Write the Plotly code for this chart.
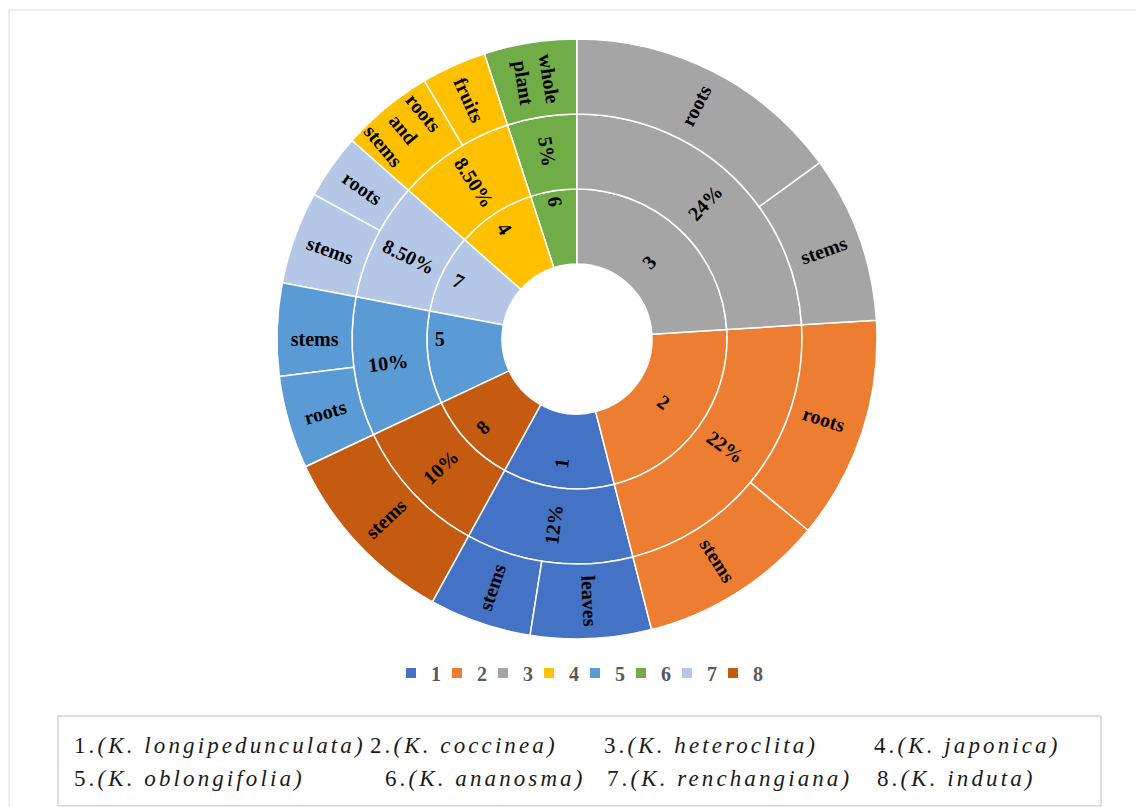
import plotly.graph_objects as go

# Species codes (legend order) and their share of records
species = ["1", "2", "3", "4", "5", "6", "7", "8"]
species_share = [12, 22, 24, 8.5, 10, 5, 8.5, 10]
share_labels = ["12%", "22%", "24%", "8.50%", "10%", "5%", "8.50%", "10%"]
species_colors = ["#4472C4", "#ED7D31", "#A5A5A5", "#FFC000",
                  "#5B9BD5", "#70AD47", "#B4C7E7", "#C55A11"]
species_names = ["K. longipedunculata", "K. coccinea", "K. heteroclita", "K. japonica",
                 "K. oblongifolia", "K. ananosma", "K. renchangiana", "K. induta"]

# Order of species around the ring, clockwise from 12 o'clock
ring_order = ["3", "2", "1", "8", "5", "7", "4", "6"]

# Plant parts used for each species (clockwise within each species)
parts = {
    "1": [("leaves", 6.5), ("stems", 5.5)],
    "2": [("roots", 12), ("stems", 10)],
    "3": [("roots", 15), ("stems", 9)],
    "4": [("roots<br>and<br>stems", 5), ("fruits", 3.5)],
    "5": [("roots", 5), ("stems", 5)],
    "6": [("whole<br>plant", 5)],
    "7": [("stems", 5), ("roots", 3.5)],
    "8": [("stems", 10)],
}


def padded(text, n):
    # blank lines around a label keep plotly from sliding it to the 3/9 o'clock line
    blank = "\u00a0<br>" * n
    return blank + text + "<br>\u00a0" * n


# labels that sit on sectors straddling 3 or 9 o'clock
pad_lines = {"pct2": 1, "part2_roots": 1, "pct5": 1}

# Plotly lays sunburst children out counter-clockwise, so feed them in reverse
ids = ["root"]
labels = [""]
parents = [""]
values = [sum(species_share)]
colors = ["white"]
texts = [""]
for sp in reversed(ring_order):
    i = species.index(sp)
    col = species_colors[i]
    sid = "sp" + sp
    ids.append(sid); labels.append(sp); parents.append("root"); values.append(species_share[i]); colors.append(col)
    texts.append(sp)
    pid = "pct" + sp
    ids.append(pid); labels.append(share_labels[i]); parents.append(sid); values.append(species_share[i]); colors.append(col)
    texts.append(padded(share_labels[i], pad_lines.get(pid, 0)))
    for name, v in reversed(parts[sp]):
        nid = f"part{sp}_{name.split('<')[0]}"
        ids.append(nid); labels.append(name); parents.append(pid); values.append(v); colors.append(col)
        texts.append(padded(name, pad_lines.get(nid, 0)))

fig = go.Figure()

fig.add_trace(go.Sunburst(
    ids=ids, labels=labels, parents=parents, values=values,
    text=texts, texttemplate="%{text}",
    branchvalues="total", sort=False, rotation=90,
    marker=dict(colors=colors, line=dict(color="white", width=1.5)),
    leaf=dict(opacity=1),
    insidetextorientation="radial",
    textfont=dict(family="Liberation Serif", size=20, color="black", weight="bold"),
    domain=dict(x=[277 / 1136, 877 / 1136], y=[1 - 639 / 807, 1 - 39 / 807]),
    hoverinfo="label+value",
))

# Legend entries for the species colours
for sp, col in zip(species, species_colors):
    fig.add_trace(go.Scatter(
        x=[None], y=[None], mode="markers", name=sp,
        marker=dict(symbol="square", size=10, color=col),
        showlegend=True,
    ))
# empty trailing entry so the last legend label is not clipped
fig.add_trace(go.Scatter(
    x=[None], y=[None], mode="markers", name="\u00a0",
    marker=dict(symbol="square", size=10, color="rgba(0,0,0,0)"),
    showlegend=True, hoverinfo="skip",
))

shapes = [
    dict(type="rect", xref="paper", yref="paper",
         x0=9 / 1136, x1=1140 / 1136, y0=1 - 812 / 807, y1=1 - 10 / 807,
         line=dict(color="#D9D9D9", width=1), fillcolor="rgba(0,0,0,0)"),
    dict(type="rect", xref="paper", yref="paper",
         x0=58 / 1136, x1=1101 / 1136, y0=1 - 806 / 807, y1=1 - 716 / 807,
         line=dict(color="#BFBFBF", width=1), fillcolor="rgba(0,0,0,0)"),
]

# Key of species names inside the box
name_pos = [(72, 745), (368, 745), (602, 745), (872, 745),
            (72, 778), (383, 778), (605, 778), (875, 778)]
annotations = []
for sp, nm, (px, py) in zip(species, species_names, name_pos):
    annotations.append(dict(
        xref="paper", yref="paper", x=px / 1136, y=1 - py / 807,
        xanchor="left", yanchor="middle", showarrow=False,
        text=f'<span style="letter-spacing:3.1px">{sp}.<i>({nm})</i></span>',
        font=dict(family="Liberation Serif", size=23, color="#1a1a1a"),
    ))

fig.update_layout(
    width=1136, height=807,
    margin=dict(l=0, r=0, t=0, b=0),
    paper_bgcolor="white", plot_bgcolor="white",
    xaxis=dict(visible=False), yaxis=dict(visible=False),
    legend=dict(orientation="h", x=381 / 1136, xanchor="left", y=1 - 673 / 807, yanchor="middle",
                font=dict(family="Liberation Serif", size=20, color="#595959", weight="bold"),
                itemwidth=30, entrywidth=1, entrywidthmode="pixels",
                borderwidth=10, bordercolor="rgba(0,0,0,0)",
                bgcolor="rgba(0,0,0,0)"),
    shapes=shapes,
    annotations=annotations,
)

fig.write_html("out.html")
